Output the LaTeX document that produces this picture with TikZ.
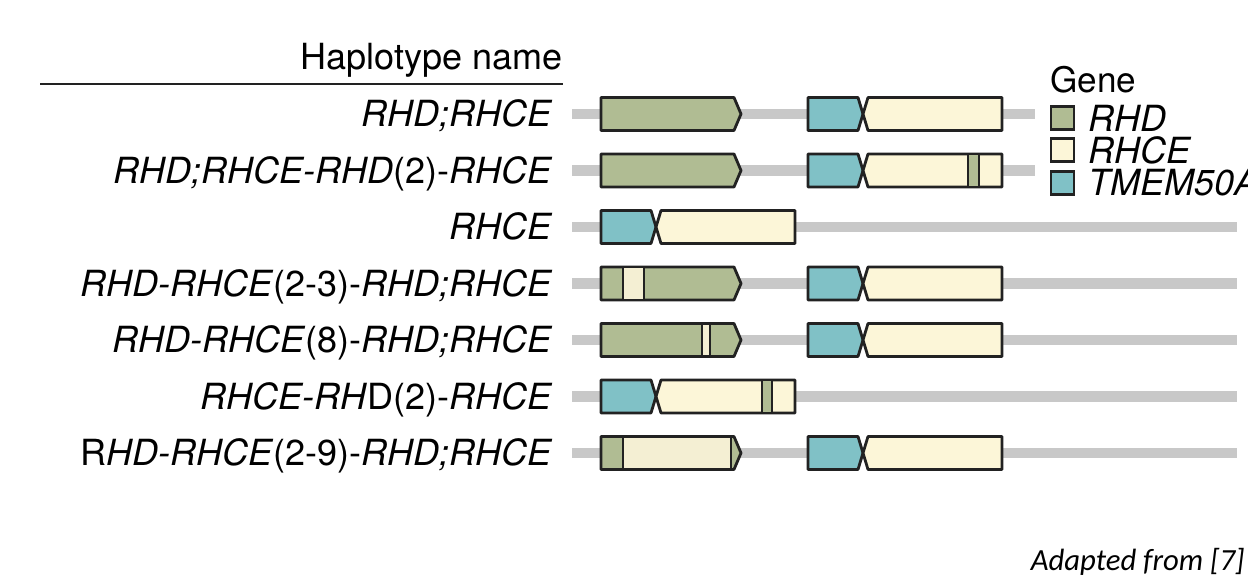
\documentclass[tikz,border=0pt]{standalone}
\usepackage{fontspec}
\setmainfont{TeX Gyre Heros}
\newfontfamily\notefont{Carlito}
\usepackage{tikz}
\usetikzlibrary{positioning}
\definecolor{rhdcol}{HTML}{B0BC93}
\definecolor{rhcecol}{HTML}{FCF6D8}
\definecolor{rhcemix}{HTML}{F4EFD3}
\definecolor{tmemcol}{HTML}{80C1C6}
\definecolor{linecol}{HTML}{C8C8C8}
\definecolor{edgecol}{HTML}{222222}
% gene shapes, #1 = left x (tip x for RHCE), #2 = row y
\newcommand{\rhdgene}[2]{\draw[GeneRHD] (#1,#2-16.5) -- (#1+133,#2-16.5) -- (#1+140,#2) -- (#1+133,#2+16.5) -- (#1,#2+16.5) -- cycle;}
\newcommand{\tmemgene}[2]{\draw[GeneTMEM] (#1,#2-16.5) -- (#1+50,#2-16.5) -- (#1+55,#2) -- (#1+50,#2+16.5) -- (#1,#2+16.5) -- cycle;}
\newcommand{\rhcegene}[2]{\draw[GeneRHCE] (#1,#2) -- (#1+5,#2-16.5) -- (#1+139,#2-16.5) -- (#1+139,#2+16.5) -- (#1+5,#2+16.5) -- cycle;}
\newcommand{\exonpatch}[4]{\draw[Patch,fill=#1] (#2,#4-16.5) rectangle (#3,#4+16.5);}

\begin{document}
\begin{tikzpicture}[
x=0.02cm, y=-0.02cm,
Backbone/.style={draw=linecol,line width=5.7pt},
GeneRHD/.style={draw=edgecol,fill=rhdcol,line width=1.6pt,line join=round},
GeneRHCE/.style={draw=edgecol,fill=rhcecol,line width=1.6pt,line join=round},
GeneTMEM/.style={draw=edgecol,fill=tmemcol,line width=1.6pt,line join=round},
Patch/.style={draw=edgecol,line width=1.6pt},
RowLabel/.style={anchor=base east,inner sep=0pt,font=\fontsize{20.5}{24}\selectfont},
LegendBox/.style={draw=edgecol,line width=1.6pt,inner sep=0pt,minimum size=0.46cm},
LegendText/.style={inner sep=0pt,font=\fontsize{20.5}{22}\selectfont\itshape}
]
\useasboundingbox (0,0) rectangle (1248,577);
\clip (0,0) rectangle (1248,577);

% row heights
\pgfmathparse{114}		\let\Ya\pgfmathresult
\pgfmathparse{170.5}	\let\Yb\pgfmathresult
\pgfmathparse{227}		\let\Yc\pgfmathresult
\pgfmathparse{283.5}	\let\Yd\pgfmathresult
\pgfmathparse{340}		\let\Ye\pgfmathresult
\pgfmathparse{396.5}	\let\Yf\pgfmathresult
\pgfmathparse{453}		\let\Yg\pgfmathresult

% header
\node[RowLabel] (head) at (563,70) {Haplotype name};
\coordinate (ruleL) at (40,84);
\coordinate (ruleR) at (563,84);
\draw[edgecol,line width=1.2pt] (ruleL)--(ruleR);

% haplotype names
\node[RowLabel] (lab1) at (553,\Ya+13) {\textit{RHD;RHCE}};
\node[RowLabel] (lab2) at (553,\Yb+13) {\textit{RHD;RHCE-RHD\/}(2)-\textit{RHCE}};
\node[RowLabel] (lab3) at (553,\Yc+13) {\textit{RHCE}};
\node[RowLabel] (lab4) at (553,\Yd+13) {\textit{RHD-RHCE\/}(2-3)-\textit{RHD;RHCE}};
\node[RowLabel] (lab5) at (553,\Ye+13) {\textit{RHD-RHCE\/}(8)-\textit{RHD;RHCE}};
\node[RowLabel] (lab6) at (553,\Yf+13) {\textit{RHCE-RH\/}D(2)-\textit{RHCE}};
\node[RowLabel] (lab7) at (553,\Yg+13) {R\textit{HD-RHCE\/}(2-9)-\textit{RHD;RHCE}};

% backbones
\foreach \yy/\xe in {\Ya/1035,\Yb/1035,\Yc/1237,\Yd/1237,\Ye/1237,\Yf/1237,\Yg/1237}
  \draw[Backbone] (572,\yy)--(\xe,\yy);

% genes
\rhdgene{601}{\Ya} \tmemgene{808}{\Ya} \rhcegene{863}{\Ya}

\rhdgene{601}{\Yb} \tmemgene{808}{\Yb} \rhcegene{863}{\Yb}
\exonpatch{rhdcol}{968}{979}{\Yb}

\tmemgene{601}{\Yc} \rhcegene{656}{\Yc}

\rhdgene{601}{\Yd} \tmemgene{808}{\Yd} \rhcegene{863}{\Yd}
\exonpatch{rhcemix}{623}{644}{\Yd}

\rhdgene{601}{\Ye} \tmemgene{808}{\Ye} \rhcegene{863}{\Ye}
\exonpatch{rhcemix}{702}{710}{\Ye}

\tmemgene{601}{\Yf} \rhcegene{656}{\Yf}
\exonpatch{rhdcol}{762}{772}{\Yf}

\rhdgene{601}{\Yg} \tmemgene{808}{\Yg} \rhcegene{863}{\Yg}
\exonpatch{rhcemix}{623}{731}{\Yg}

% legend
\node[anchor=base west,inner sep=0pt,font=\fontsize{20}{22}\selectfont] (gene) at (1050,93) {Gene};
\node[LegendBox,fill=rhdcol] (kRHD) at (1062.5,118) {};
\node[LegendBox,fill=rhcecol] (kRHCE) at (1062.5,150) {};
\node[LegendBox,fill=tmemcol] (kTMEM) at (1062.5,183) {};
\node[LegendText,right=0.26cm of kRHD] (tRHD) {RHD};
\node[LegendText,right=0.26cm of kRHCE] (tRHCE) {RHCE};
\node[LegendText,right=0.26cm of kTMEM] (tTMEM) {TMEM50A};

\node[anchor=base east,inner sep=0pt,font=\notefont\itshape\fontsize{17.5}{20}\selectfont] (note) at (1245,570) {Adapted from [7]};

\end{tikzpicture}
\end{document}
